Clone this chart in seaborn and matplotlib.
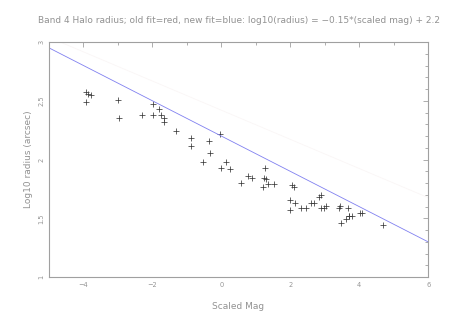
import numpy as np
import pandas as pd
import matplotlib
matplotlib.use("Agg")
import matplotlib.pyplot as plt
from matplotlib.ticker import MultipleLocator
import seaborn as sns

# ---- data ----
scaled_mag = [-3.94, -3.88, -3.77, -3.94, -3.01, -2.96, -2.29, -1.99, -1.97, -1.82,
              -1.74, -1.67, -1.67, -1.31, -0.88, -0.89, -0.35, -0.04, -0.33, -0.54,
              0.14, -0.02, 0.24, 0.57, 0.76, 0.88, 1.26, 1.24, 1.29, 1.22,
              1.36, 1.52, 2.05, 2.12, 1.98, 2.15, 2.00, 2.31, 2.47, 2.61,
              2.68, 2.83, 2.89, 2.90, 2.97, 3.05, 3.41, 3.43, 3.67, 3.69,
              3.63, 3.47, 3.70, 3.79, 4.01, 4.07, 4.68]
log_radius = [2.572, 2.557, 2.546, 2.492, 2.506, 2.350, 2.379, 2.470, 2.379, 2.430,
              2.379, 2.350, 2.320, 2.243, 2.180, 2.117, 2.157, 2.220, 2.055, 1.980,
              1.980, 1.928, 1.917, 1.797, 1.862, 1.845, 1.930, 1.845, 1.831, 1.769,
              1.789, 1.794, 1.783, 1.769, 1.655, 1.627, 1.570, 1.585, 1.585, 1.632,
              1.627, 1.678, 1.695, 1.585, 1.585, 1.604, 1.585, 1.604, 1.585, 1.519,
              1.496, 1.457, 1.520, 1.520, 1.547, 1.547, 1.440]

new_fit = (-0.15, 2.2)    # slope, intercept (blue)
old_fit = (-0.124, 2.42)  # slope, intercept (red, very faint)
x_range = [-5, 6]
y_range = [1, 3]

title = "Band 4 Halo radius; old fit=red, new fit=blue: log10(radius) = \u22120.15*(scaled mag) + 2.2"
xlabel = "Scaled Mag"
ylabel = "Log10 radius (arcsec)"

df = pd.DataFrame({"mag": scaled_mag, "logr": log_radius})
fx = np.array(x_range, dtype=float)
fit_df = pd.DataFrame({
    "x": np.concatenate([fx, fx]),
    "y": np.concatenate([new_fit[0] * fx + new_fit[1], old_fit[0] * fx + old_fit[1]]),
    "fit": ["new", "new", "old", "old"],
})

sns.set_style("white")
plt.rcParams["font.family"] = ["DejaVu Sans"]

fig = plt.figure(figsize=(4.71, 3.23), dpi=100)
ax = fig.add_axes([0.104, 0.142, 0.805, 0.728])

sns.lineplot(data=fit_df[fit_df.fit == "old"], x="x", y="y", color="#faf6f6",
             linewidth=0.6, ax=ax, legend=False)
sns.lineplot(data=fit_df[fit_df.fit == "new"], x="x", y="y", color="#8080f0",
             linewidth=0.6, ax=ax, legend=False)
sns.scatterplot(data=df, x="mag", y="logr", marker="+", s=22, color="#3a3a3a",
                linewidth=0.55, ax=ax, legend=False)

ax.set_xlim(x_range)
ax.set_ylim(y_range)
ax.xaxis.set_major_locator(MultipleLocator(2))
ax.xaxis.set_minor_locator(MultipleLocator(1))
ax.yaxis.set_major_locator(MultipleLocator(0.5))
ax.yaxis.set_minor_locator(MultipleLocator(0.1))
ax.yaxis.set_major_formatter(matplotlib.ticker.FuncFormatter(lambda v, p: f"{v:g}"))

gray = "#a0a0a0"
for s in ax.spines.values():
    s.set_color(gray)
    s.set_linewidth(0.8)
ax.tick_params(which="both", direction="in", top=True, right=True, color=gray,
               width=0.6, labelcolor="#959595", labelsize=4.8)
ax.tick_params(which="major", length=3.5)
ax.tick_params(which="minor", length=2)
for lbl in ax.get_yticklabels():
    lbl.set_rotation(90)
    lbl.set_va("center")

ax.set_xlabel(xlabel, fontsize=6.5, color="#929292", labelpad=10)
ax.set_ylabel(ylabel, fontsize=6.5, color="#929292", labelpad=4)
fig.text(0.508, 0.937, title, ha="center", va="center", fontsize=6.5,
         color="#929292")

fig.savefig("out.png", dpi=100, facecolor="white")
